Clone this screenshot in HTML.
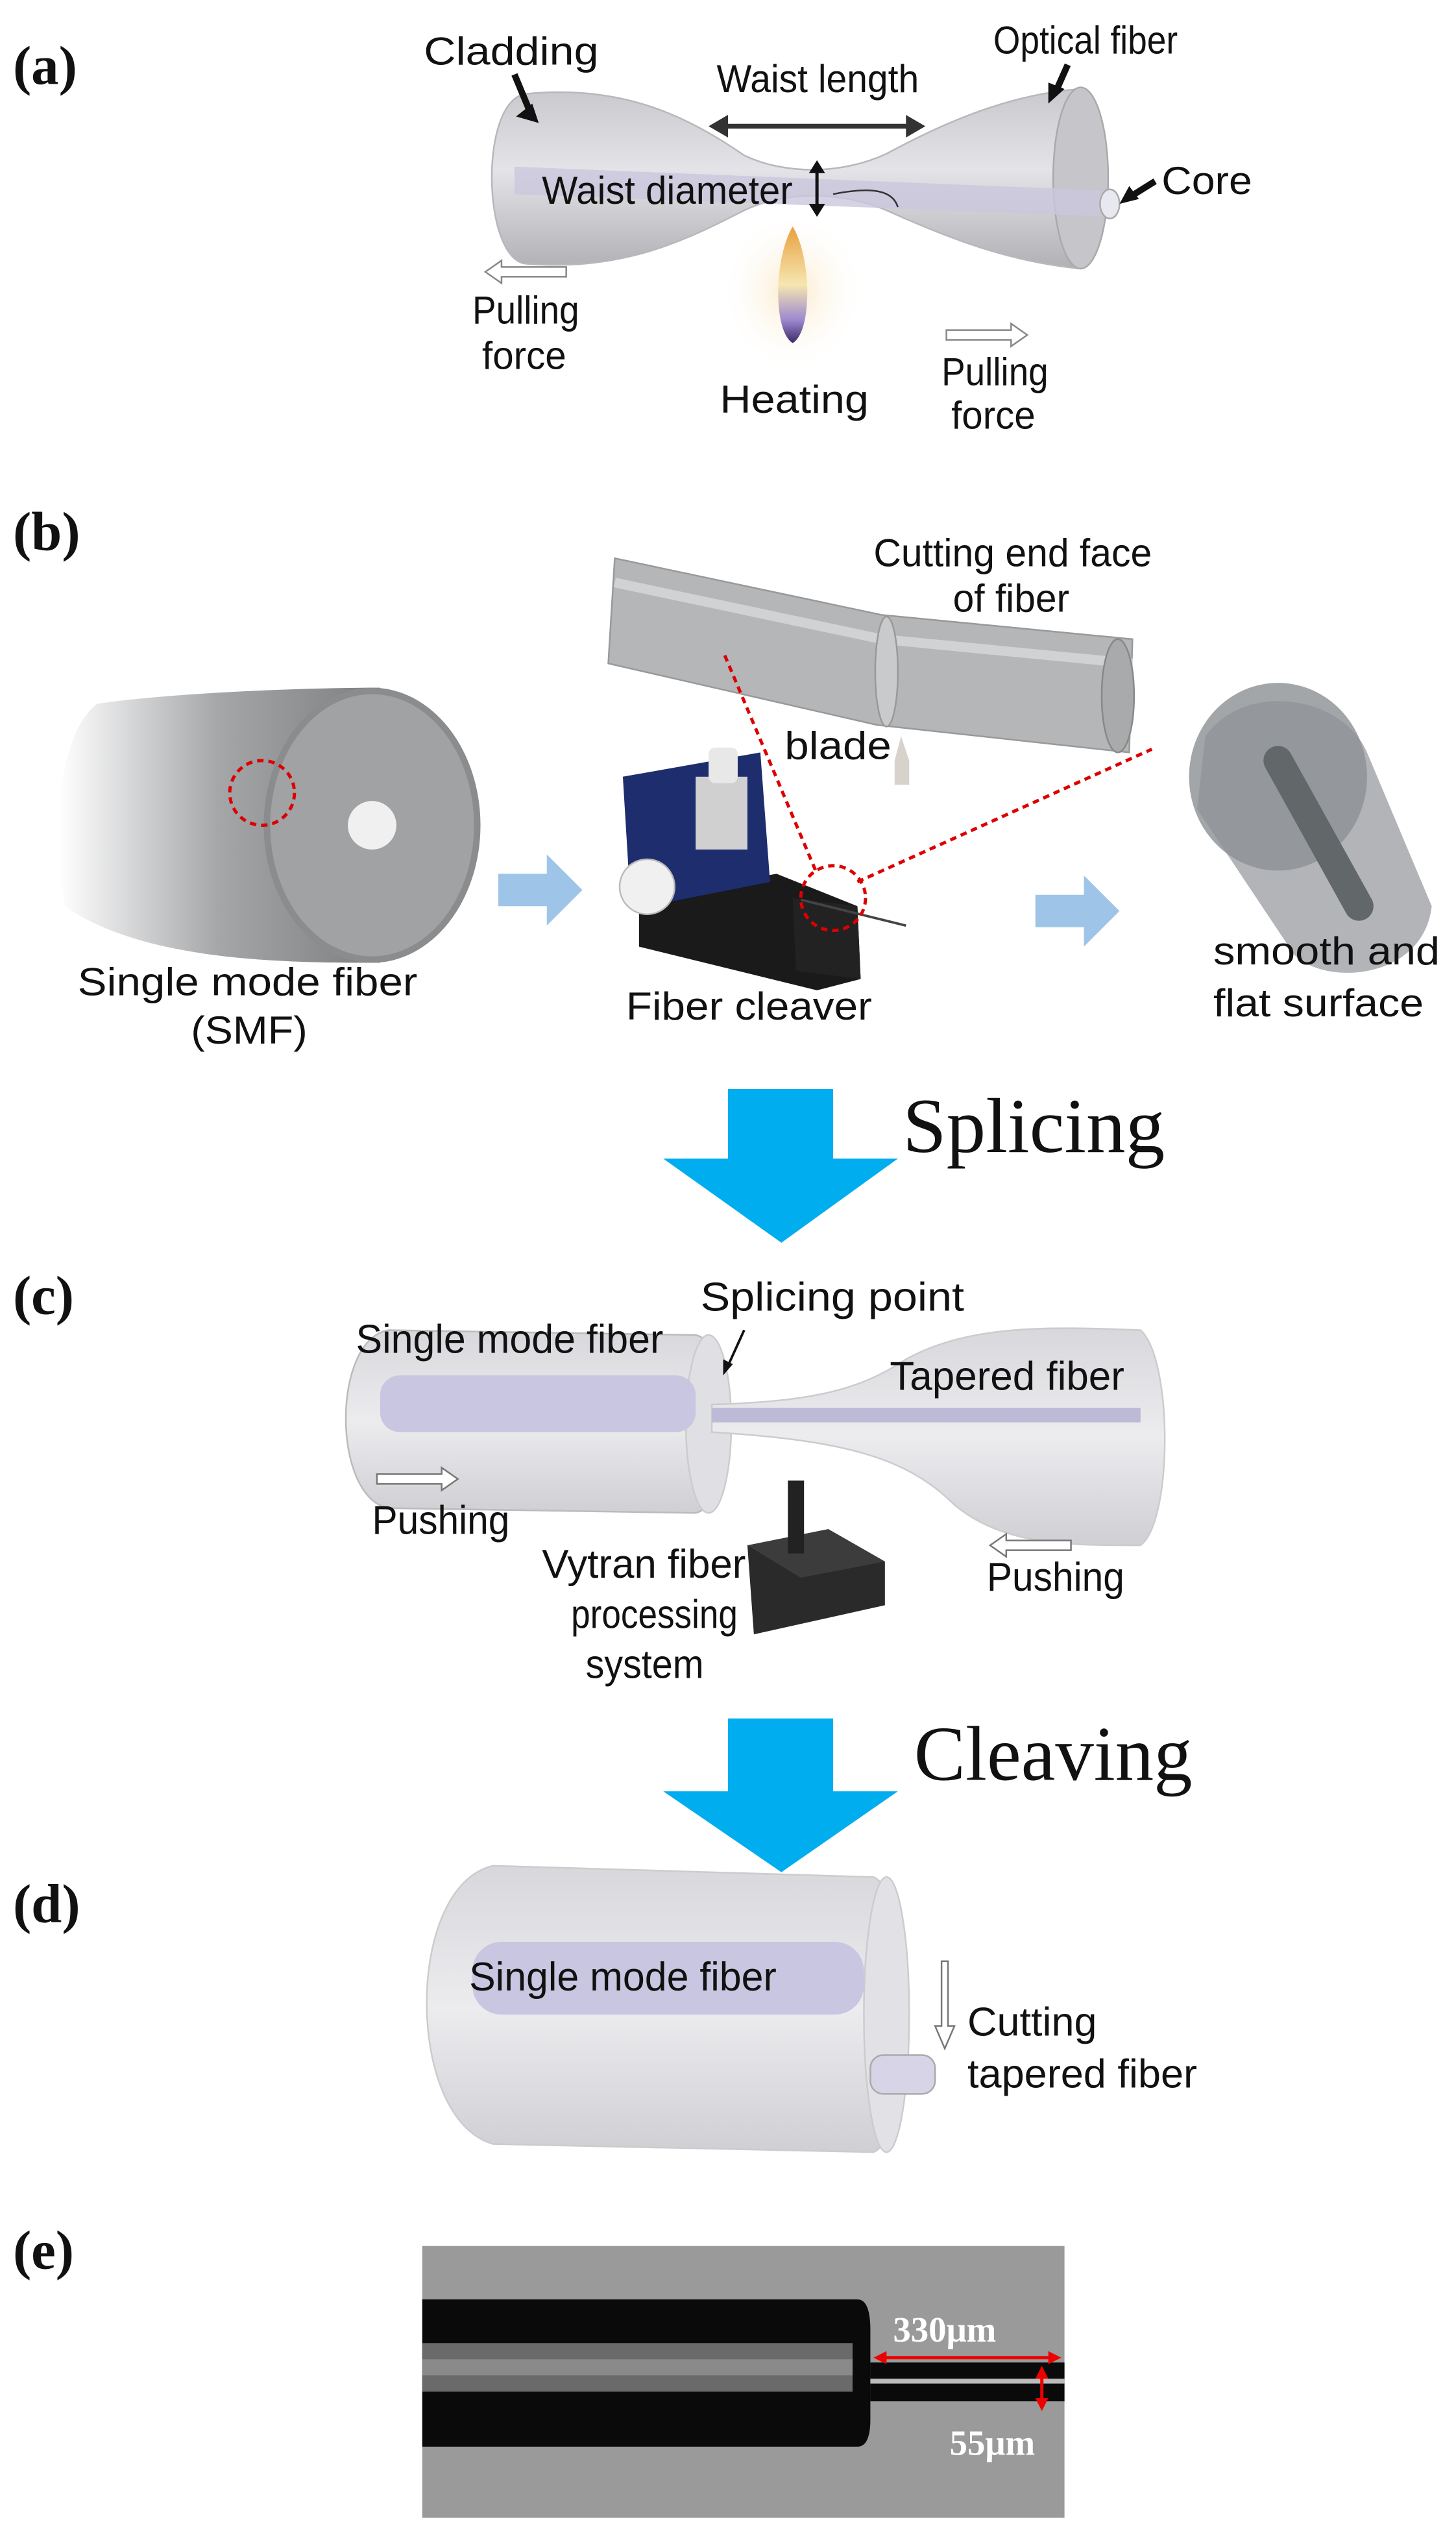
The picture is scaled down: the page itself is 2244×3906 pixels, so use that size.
<!DOCTYPE html>
<html><head><meta charset="utf-8"><style>
html,body{margin:0;padding:0;background:#fff;width:2244px;height:3906px;overflow:hidden}
svg{display:block}
.s{font-family:"Liberation Sans",sans-serif;font-size:24px;fill:#111}
.c{font-family:"Liberation Sans Narrow","Liberation Sans",sans-serif;font-size:25px;fill:#111}
.L{font-family:"Liberation Serif",serif;font-weight:bold;font-size:34px;fill:#111}
.big{font-family:"Liberation Serif",serif;font-size:48px;fill:#111}
</style></head><body>
<svg width="2244" height="3906" viewBox="0 0 900 1566.6" xmlns="http://www.w3.org/2000/svg">
<defs>
<linearGradient id="g1" x1="0" y1="0" x2="0" y2="1"><stop offset="0" stop-color="#c9c9cd"/><stop offset="0.45" stop-color="#e4e4e8"/><stop offset="1" stop-color="#b0b0b5"/></linearGradient>
<linearGradient id="g2" x1="0" y1="0" x2="0" y2="1"><stop offset="0" stop-color="#d8d8dc"/><stop offset="0.5" stop-color="#ececef"/><stop offset="1" stop-color="#cfcfd4"/></linearGradient>
<linearGradient id="gs" x1="0" y1="0" x2="1" y2="0"><stop offset="0" stop-color="#fff"/><stop offset="0.5" stop-color="#9a9c9e"/><stop offset="1" stop-color="#6e7072"/></linearGradient>
<linearGradient id="fl" x1="0" y1="0" x2="0" y2="1"><stop offset="0" stop-color="#e8a040"/><stop offset="0.5" stop-color="#f6e6b0"/><stop offset="0.8" stop-color="#9d8ad0"/><stop offset="1" stop-color="#3a2a6a"/></linearGradient>
<radialGradient id="glow"><stop offset="0" stop-color="#fbe9c8"/><stop offset="1" stop-color="#fff" stop-opacity="0"/></radialGradient>
</defs>

<!-- (a) -->
<text class="L" x="8" y="52">(a)</text>
<path d="M325,58 C385,52 425,72 460,96 C485,108 520,108 548,95 C585,75 625,58 668,55 L668,166 C625,162 588,148 548,130 C520,118 485,118 460,130 C425,148 385,168 325,163 C298,160 296,62 325,58 Z" fill="url(#g1)" stroke="#b8b8bc"/>
<ellipse cx="668" cy="110" rx="17" ry="56" fill="#c5c5ca" stroke="#aaa"/>
<path d="M318,103 L690,118 L690,134 L318,120 Z" fill="#c9c7dc" opacity="0.8"/>
<ellipse cx="686" cy="126" rx="6" ry="9" fill="#e8e8f0" stroke="#aaa"/>
<line x1="446" y1="78" x2="564" y2="78" stroke="#333" stroke-width="3"/>
<path d="M438,78 l12,-7 v14z M572,78 l-12,-7 v14z" fill="#333"/>
<line x1="505" y1="103" x2="505" y2="130" stroke="#111" stroke-width="2"/>
<path d="M505,99 l-5,8 h10z M505,134 l-5,-8 h10z" fill="#111"/>
<path d="M555,128 C552,118 540,115 515,120" fill="none" stroke="#333" stroke-width="1"/>
<ellipse cx="490" cy="180" rx="45" ry="50" fill="url(#glow)"/>
<path d="M490,140 C478,160 478,205 490,212 C502,205 502,160 490,140 Z" fill="url(#fl)"/>
<path d="M318,46 l10,24" stroke="#111" stroke-width="4"/><path d="M333,76 l-14,-4 l10,-8z" fill="#111"/>
<path d="M660,40 l-8,18" stroke="#111" stroke-width="4"/><path d="M648,64 l0,-13 l10,4z" fill="#111"/>
<path d="M714,112 l-16,10" stroke="#111" stroke-width="4"/><path d="M692,126 l6,-11 l6,8z" fill="#111"/>
<text class="s" x="262" y="40" textLength="108" lengthAdjust="spacingAndGlyphs">Cladding</text>
<text class="s" x="443" y="57" textLength="125" lengthAdjust="spacingAndGlyphs">Waist length</text>
<text class="s" x="614" y="33" textLength="114" lengthAdjust="spacingAndGlyphs">Optical fiber</text>
<text class="s" x="718" y="120" textLength="56" lengthAdjust="spacingAndGlyphs">Core</text>
<text class="s" x="335" y="126" textLength="155" lengthAdjust="spacingAndGlyphs">Waist diameter</text>
<path d="M300,168 l10,-7 v4 h40 v6 h-40 v4z" fill="#fff" stroke="#888"/>
<text class="s" x="292" y="200" textLength="66" lengthAdjust="spacingAndGlyphs">Pulling</text><text class="s" x="298" y="228" textLength="52" lengthAdjust="spacingAndGlyphs">force</text>
<path d="M635,207 l-10,-7 v4 h-40 v6 h40 v4z" fill="#fff" stroke="#888"/>
<text class="s" x="582" y="238" textLength="66" lengthAdjust="spacingAndGlyphs">Pulling</text><text class="s" x="588" y="265" textLength="52" lengthAdjust="spacingAndGlyphs">force</text>
<text class="s" x="445" y="255" textLength="92" lengthAdjust="spacingAndGlyphs">Heating</text>

<!-- (b) -->
<text class="L" x="8" y="340">(b)</text>
<path d="M380,345 L545,380 L700,395 L698,465 L542,448 L376,410 Z" fill="#b4b6b8" stroke="#999"/>
<path d="M380,360 L545,395 L700,410" stroke="#d0d2d4" stroke-width="6" fill="none"/>
<ellipse cx="691" cy="430" rx="10" ry="35" fill="#a8aaac" stroke="#888"/>
<ellipse cx="548" cy="415" rx="7" ry="34" fill="#c8cacc" stroke="#999"/>
<path d="M557,455 L562,470 L562,485 L553,485 L553,470 Z" fill="#d8d2cc"/>
<text class="s" x="540" y="350" textLength="172" lengthAdjust="spacingAndGlyphs">Cutting end face</text><text class="s" x="589" y="378" textLength="72" lengthAdjust="spacingAndGlyphs">of fiber</text>
<text class="s" x="485" y="469" textLength="66" lengthAdjust="spacingAndGlyphs">blade</text>
<path d="M60,435 C40,450 30,500 40,560 C90,595 180,595 235,595 L235,425 C170,425 90,430 60,435Z" fill="url(#gs)" opacity="0.9"/>
<ellipse cx="230" cy="510" rx="67" ry="85" fill="#8a8c8e"/>
<ellipse cx="230" cy="510" rx="63" ry="81" fill="#a0a2a4"/>
<circle cx="230" cy="510" r="15" fill="#f0f0f0"/>
<circle cx="162" cy="490" r="20" fill="none" stroke="#d00" stroke-width="2" stroke-dasharray="4,3"/>
<path d="M308,540 h30 v-12 l22,22 l-22,22 v-12 h-30z" fill="#9ec5e8"/>
<path d="M640,553 h30 v-12 l22,22 l-22,22 v-12 h-30z" fill="#9ec5e8"/>
<path d="M395,555 L480,540 L530,560 L532,605 L505,612 L395,585Z" fill="#1a1a1a"/>
<path d="M385,480 L470,465 L476,545 L390,562Z" fill="#1e2d6e"/>
<rect x="430" y="480" width="32" height="45" fill="#d0d0d0"/>
<rect x="438" y="462" width="18" height="22" rx="4" fill="#e8e8e8"/>
<circle cx="400" cy="548" r="17" fill="#f0f0f0" stroke="#bbb"/>
<path d="M490,555 L530,560 L532,605 L492,600Z" fill="#222"/>
<line x1="495" y1="556" x2="560" y2="572" stroke="#444" stroke-width="1.5"/>
<circle cx="515" cy="555" r="20" fill="none" stroke="#d00" stroke-width="2" stroke-dasharray="4,3"/>
<line x1="448" y1="405" x2="505" y2="540" stroke="#d00" stroke-width="2" stroke-dasharray="4,3"/>
<line x1="530" y1="545" x2="712" y2="463" stroke="#d00" stroke-width="2" stroke-dasharray="4,3"/>
<path d="M745,455 C770,420 830,430 845,465 L885,560 C880,605 820,610 800,590 L740,500Z" fill="#a4a7aa" opacity="0.85"/>
<ellipse cx="790" cy="480" rx="55" ry="58" fill="#8c9093" opacity="0.8"/>
<path d="M790,470 L840,560" stroke="#62676a" stroke-width="18" stroke-linecap="round"/>
<text class="s" x="48" y="615" textLength="210" lengthAdjust="spacingAndGlyphs">Single mode fiber</text><text class="s" x="118" y="645" textLength="72" lengthAdjust="spacingAndGlyphs">(SMF)</text>
<text class="s" x="387" y="630" textLength="152" lengthAdjust="spacingAndGlyphs">Fiber cleaver</text>
<text class="s" x="750" y="596" textLength="140" lengthAdjust="spacingAndGlyphs">smooth and</text><text class="s" x="750" y="628" textLength="130" lengthAdjust="spacingAndGlyphs">flat surface</text>

<path d="M450,673 h65 v43 h40 l-72,52 l-73,-52 h40z" fill="#00adef"/>
<text class="big" x="558" y="712" textLength="162" lengthAdjust="spacingAndGlyphs">Splicing</text>

<!-- (c) -->
<text class="L" x="8" y="812">(c)</text>
<path d="M240,822 L430,825 C455,830 455,930 430,935 L240,932 C205,925 205,828 240,822Z" fill="url(#g2)" stroke="#bbb"/>
<ellipse cx="438" cy="880" rx="14" ry="55" fill="#e0e0e4" stroke="#ccc"/>
<rect x="235" y="850" width="195" height="35" rx="12" fill="#c8c6e0"/>
<path d="M440,868 C500,866 530,860 560,840 C600,818 650,820 705,822 C725,840 725,940 705,955 C660,955 620,955 590,930 C560,900 520,890 440,885Z" fill="url(#g2)" stroke="#ccc"/>
<rect x="440" y="870" width="265" height="9" fill="#bcbad6"/>
<path d="M460,822 l-10,22" stroke="#111" stroke-width="1.5"/><path d="M447,850 l0,-10 l6,3z" fill="#111"/>
<text class="c" x="220" y="836" textLength="190" lengthAdjust="spacingAndGlyphs">Single mode fiber</text>
<text class="c" x="433" y="810" textLength="163" lengthAdjust="spacingAndGlyphs">Splicing point</text>
<text class="c" x="550" y="859" textLength="145" lengthAdjust="spacingAndGlyphs">Tapered fiber</text>
<path d="M283,914 l-10,-7 v4 h-40 v6 h40 v4z" fill="#fff" stroke="#777"/>
<text class="c" x="230" y="948" textLength="85" lengthAdjust="spacingAndGlyphs">Pushing</text>
<path d="M612,955 l10,-7 v4 h40 v6 h-40 v4z" fill="#fff" stroke="#777"/>
<text class="c" x="610" y="983" textLength="85" lengthAdjust="spacingAndGlyphs">Pushing</text>
<path d="M462,955 L512,945 L547,965 L547,992 L466,1010 Z" fill="#2a2a2a"/>
<path d="M462,955 L512,945 L547,965 L495,975Z" fill="#3c3c3c"/>
<rect x="487" y="915" width="10" height="45" fill="#222"/>
<text class="c" x="335" y="975" textLength="126" lengthAdjust="spacingAndGlyphs">Vytran fiber</text>
<text class="c" x="353" y="1006" textLength="103" lengthAdjust="spacingAndGlyphs">processing</text>
<text class="c" x="362" y="1037" textLength="73" lengthAdjust="spacingAndGlyphs">system</text>

<path d="M450,1062 h65 v45 h40 l-72,50 l-73,-50 h40z" fill="#00adef"/>
<text class="big" x="565" y="1100" textLength="172" lengthAdjust="spacingAndGlyphs">Cleaving</text>

<!-- (d) -->
<text class="L" x="8" y="1188">(d)</text>
<path d="M305,1153 L540,1160 C565,1170 565,1320 540,1330 L305,1325 C250,1310 250,1165 305,1153Z" fill="url(#g2)" stroke="#ccc"/>
<ellipse cx="548" cy="1245" rx="14" ry="85" fill="#e2e2e6" stroke="#ccc"/>
<rect x="292" y="1200" width="242" height="45" rx="18" fill="#c8c6e0"/>
<rect x="538" y="1270" width="40" height="24" rx="8" fill="#d6d4e6" stroke="#aaa"/>
<path d="M582,1212 v40 h-4 l6,14 l6,-14 h-4 v-40z" fill="#fff" stroke="#777"/>
<text class="c" x="290" y="1230" textLength="190" lengthAdjust="spacingAndGlyphs">Single mode fiber</text>
<text class="c" x="598" y="1258" textLength="80" lengthAdjust="spacingAndGlyphs">Cutting</text>
<text class="c" x="598" y="1290" textLength="142" lengthAdjust="spacingAndGlyphs">tapered fiber</text>

<!-- (e) -->
<text class="L" x="8" y="1402">(e)</text>
<rect x="261" y="1388" width="397" height="168" fill="#9a9a9a"/>
<path d="M261,1421 L530,1421 Q538,1421 538,1440 L538,1495 Q538,1512 530,1512 L261,1512Z" fill="#0a0a0a"/>
<rect x="261" y="1448" width="266" height="30" fill="#6a6a6a"/>
<rect x="261" y="1458" width="266" height="10" fill="#8a8a8a"/>
<rect x="538" y="1460" width="120" height="24" fill="#0a0a0a"/>
<rect x="538" y="1470" width="120" height="3" fill="#bbb"/>
<line x1="545" y1="1457" x2="651" y2="1457" stroke="#e00" stroke-width="2"/>
<path d="M540,1457 l8,-4 v8z M656,1457 l-8,-4 v8z" fill="#e00"/>
<line x1="644" y1="1467" x2="644" y2="1485" stroke="#e00" stroke-width="2"/>
<path d="M644,1462 l-4,8 h8z M644,1490 l-4,-8 h8z" fill="#e00"/>
<text x="552" y="1447" font-family="Liberation Serif,serif" font-weight="bold" font-size="22" fill="#fff">330μm</text>
<text x="587" y="1517" font-family="Liberation Serif,serif" font-weight="bold" font-size="22" fill="#fff">55μm</text>
</svg>
</body></html>
